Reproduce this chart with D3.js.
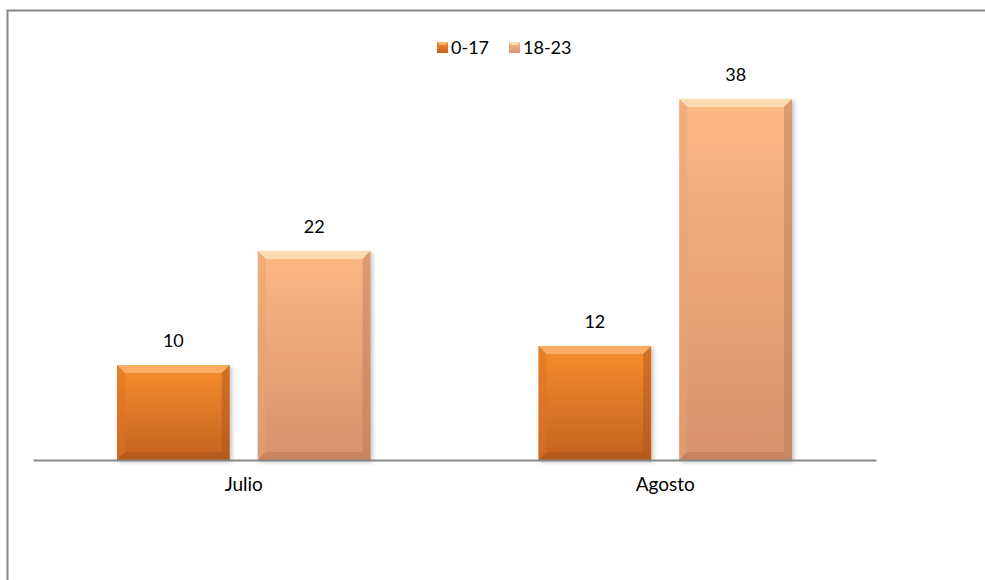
<!DOCTYPE html>
<html><head><meta charset="utf-8">
<script src="https://cdn.jsdelivr.net/npm/d3@7/dist/d3.min.js"></script>
<style>body{margin:0;background:#fff}svg{display:block}text{font-family:Lato,"Open Sans",sans-serif;fill:#000}</style>
</head><body><svg id="c" width="985" height="580"></svg>
<script>
const categories = ["Julio", "Agosto"];
const series = ["0-17", "18-23"];
const values = {"0-17": [10, 12], "18-23": [22, 38]};
const W = 985, H = 580;
const svg = d3.select("#c");
const defs = svg.append("defs");
const col = {
  "0-17": {top:"#f88d2e", bot:"#c4621f", hi:"#fbb36e", lo:"#a9531a", side:"#d97426"},
  "18-23": {top:"#fdb884", bot:"#d8916c", hi:"#fde2b8", lo:"#b97656", side:"#e6a177"}
};
series.forEach((s,i)=>{
  const g = defs.append("linearGradient").attr("id","g"+i).attr("x1",0).attr("y1",0).attr("x2",0).attr("y2",1);
  g.append("stop").attr("offset","0%").attr("stop-color",col[s].top);
  g.append("stop").attr("offset","100%").attr("stop-color",col[s].bot);
});
const f = defs.append("filter").attr("id","sh").attr("x","-10%").attr("y","-10%").attr("width","130%").attr("height","130%");
f.append("feDropShadow").attr("dx",2).attr("dy",2).attr("stdDeviation",2).attr("flood-color","#000").attr("flood-opacity",0.25);

// outer border
svg.append("path").attr("d","M7.5,580 V10.5 H985").attr("fill","none").attr("stroke","#878787").attr("stroke-width",2);

const x0 = d3.scaleBand().domain(categories).range([33, 876]);
const x1 = d3.scaleBand().domain(series).range([84, x0.bandwidth()-84]).paddingInner(0.2);
const y = d3.scaleLinear().domain([0, 45]).range([460, 32.5]);

const bw = x1.bandwidth();
const bv = 8;
categories.forEach((c,ci)=>{
  series.forEach((s,si)=>{
    const v = values[s][ci];
    const x = x0(c) + x1(s), yt = y(v), yb = y(0), h = yb - yt;
    const g = svg.append("g");
    g.append("rect").attr("x",x).attr("y",yt).attr("width",bw).attr("height",h).attr("fill","url(#g"+si+")").attr("filter","url(#sh)");
    g.append("path").attr("d",`M${x},${yt} H${x+bw} L${x+bw-bv},${yt+bv} H${x+bv} Z`).attr("fill",col[s].hi).attr("opacity",0.85);
    g.append("path").attr("d",`M${x},${yt} L${x+bv},${yt+bv} V${yb-bv} L${x},${yb} Z`).attr("fill",col[s].side).attr("opacity",0.5);
    g.append("path").attr("d",`M${x+bw},${yt} L${x+bw-bv},${yt+bv} V${yb-bv} L${x+bw},${yb} Z`).attr("fill",col[s].lo).attr("opacity",0.45);
    g.append("path").attr("d",`M${x},${yb} L${x+bv},${yb-bv} H${x+bw-bv} L${x+bw},${yb} Z`).attr("fill",col[s].lo).attr("opacity",0.55);
    svg.append("text").attr("x",x+bw/2).attr("y",yt-18).attr("text-anchor","middle").style("font-size","18px").text(v);
  });
});

// axis
const ax = svg.append("g").attr("transform","translate(0,460)").call(d3.axisBottom(x0).tickSize(0).tickPadding(18));
ax.select(".domain").attr("stroke","#888").attr("stroke-width",2);
ax.selectAll("text").style("font-size","19px").style("font-family","Lato,'Open Sans',sans-serif").attr("fill","#000");

// legend
const lg = svg.append("g");
const lx = [437, 509];
series.forEach((s,i)=>{
  const gx = lx[i];
  lg.append("rect").attr("x",gx).attr("y",42).attr("width",11).attr("height",11).attr("fill","url(#g"+i+")");
  lg.append("path").attr("d",`M${gx},42 H${gx+11} L${gx+8},45 H${gx+3} Z`).attr("fill",col[s].hi);
  lg.append("text").attr("x",gx+14).attr("y",54).style("font-size","18px").text(s);
});
</script></body></html>
